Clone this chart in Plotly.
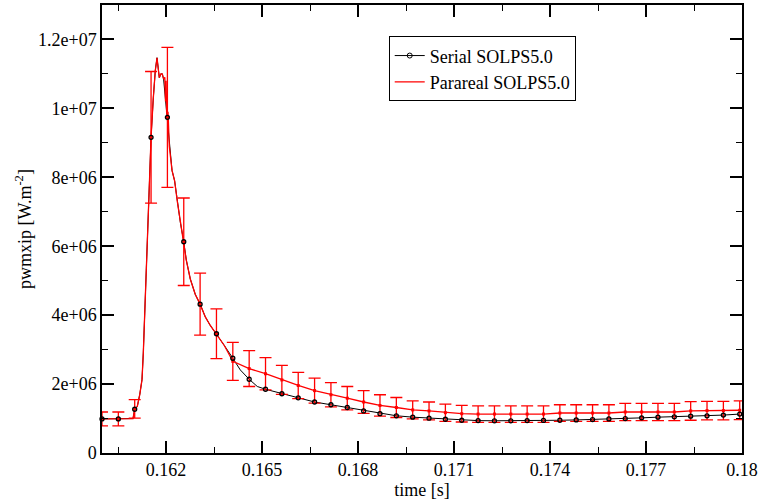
import plotly.graph_objects as go

# ---- data ----
# time of the sampled points (markers / error bars)
sample_t = [0.160000, 0.160511, 0.161022, 0.161533, 0.162044, 0.162555, 0.163066, 0.163577,
            0.164088, 0.164599, 0.165110, 0.165621, 0.166132, 0.166643, 0.167154, 0.167665,
            0.168176, 0.168687, 0.169198, 0.169709, 0.170220, 0.170731, 0.171242, 0.171753,
            0.172264, 0.172775, 0.173286, 0.173797, 0.174308, 0.174819, 0.175330, 0.175841,
            0.176352, 0.176863, 0.177374, 0.177885, 0.178396, 0.178907, 0.179418, 0.179929]

serial_y = [0.99e6, 0.99e6, 1.27e6, 9.16e6, 9.74e6, 6.13e6, 4.32e6, 3.46e6,
            2.75e6, 2.14e6, 1.85e6, 1.72e6, 1.60e6, 1.48e6, 1.40e6, 1.32e6,
            1.22e6, 1.14e6, 1.08e6, 1.04e6, 1.01e6, 0.98e6, 0.95e6, 0.94e6,
            0.935e6, 0.935e6, 0.94e6, 0.945e6, 0.95e6, 0.96e6, 0.97e6, 0.99e6,
            1.00e6, 1.02e6, 1.04e6, 1.05e6, 1.07e6, 1.08e6, 1.10e6, 1.13e6]

# extra points of the serial curve between samples
serial_detail_t = [0.160822, 0.160970, 0.161103, 0.161181, 0.161250, 0.161291, 0.161331,
                   0.161400, 0.161478, 0.161603, 0.161666, 0.161719, 0.161759, 0.161791,
                   0.161838, 0.161884, 0.161925, 0.161978, 0.162103, 0.162188, 0.162269,
                   0.162353, 0.162447, 0.162634, 0.162759, 0.162916, 0.163228, 0.163384,
                   0.163822, 0.164322, 0.164853]
serial_detail_y = [0.99e6, 1.00e6, 1.35e6, 1.70e6, 2.13e6, 2.90e6, 3.87e6,
                   5.80e6, 7.94e6, 10.3e6, 11.1e6, 11.47e6, 11.15e6, 10.89e6,
                   11.0e6, 11.0e6, 10.85e6, 10.3e6, 8.9e6, 8.2e6, 7.9e6,
                   7.3e6, 6.7e6, 5.6e6, 5.05e6, 4.6e6, 3.95e6, 3.7e6,
                   3.12e6, 2.41e6, 1.93e6]

parareal_y = [0.99e6, 0.99e6, 1.28e6, 9.16e6, 9.74e6, 6.13e6, 4.32e6, 3.46e6,
              2.66e6, 2.45e6, 2.30e6, 2.12e6, 1.96e6, 1.81e6, 1.69e6, 1.59e6,
              1.48e6, 1.38e6, 1.32e6, 1.25e6, 1.22e6, 1.17e6, 1.14e6, 1.13e6,
              1.13e6, 1.13e6, 1.13e6, 1.13e6, 1.16e6, 1.16e6, 1.16e6, 1.16e6,
              1.19e6, 1.19e6, 1.19e6, 1.19e6, 1.22e6, 1.23e6, 1.23e6, 1.24e6]
parareal_err = [0.20e6, 0.20e6, 0.27e6, 1.91e6, 2.03e6, 1.27e6, 0.90e6, 0.72e6,
                0.55e6, 0.52e6, 0.47e6, 0.42e6, 0.38e6, 0.36e6, 0.35e6, 0.34e6,
                0.33e6, 0.31e6, 0.29e6, 0.26e6, 0.26e6, 0.25e6, 0.24e6, 0.24e6,
                0.24e6, 0.24e6, 0.24e6, 0.24e6, 0.24e6, 0.24e6, 0.24e6, 0.24e6,
                0.25e6, 0.25e6, 0.25e6, 0.25e6, 0.27e6, 0.27e6, 0.27e6, 0.27e6]

parareal_detail_t = [0.160822, 0.160970, 0.161103, 0.161181, 0.161250, 0.161291, 0.161331,
                     0.161400, 0.161478, 0.161603, 0.161666, 0.161719, 0.161759, 0.161791,
                     0.161838, 0.161884, 0.161925, 0.161963, 0.161984, 0.162003, 0.162019,
                     0.162063, 0.162081, 0.162103, 0.162188, 0.162269, 0.162353, 0.162447,
                     0.162634, 0.162759, 0.162916, 0.163228, 0.163384, 0.163822]
parareal_detail_y = [0.99e6, 1.00e6, 1.35e6, 1.70e6, 2.13e6, 2.90e6, 3.87e6,
                     5.80e6, 7.94e6, 10.3e6, 11.1e6, 11.47e6, 11.15e6, 10.89e6,
                     11.0e6, 11.0e6, 10.85e6, 10.9e6, 10.2e6, 10.8e6, 9.9e6,
                     9.9e6, 9.3e6, 8.9e6, 8.2e6, 7.9e6, 7.3e6, 6.7e6,
                     5.6e6, 5.05e6, 4.6e6, 3.95e6, 3.7e6, 3.12e6]

x_tickvals = [0.162, 0.165, 0.168, 0.171, 0.174, 0.177, 0.18]
x_ticktext = ["0.162", "0.165", "0.168", "0.171", "0.174", "0.177", "0.18"]
y_tickvals = [0, 2e6, 4e6, 6e6, 8e6, 1e7, 1.2e7]
y_ticktext = ["0", "2e+06", "4e+06", "6e+06", "8e+06", "1e+07", "1.2e+07"]

# ---- build dense curves ----
ser = sorted(zip(sample_t + serial_detail_t, serial_y + serial_detail_y))
ser_t = [p[0] for p in ser]
ser_y = [p[1] for p in ser]
par = sorted(zip(sample_t + parareal_detail_t, parareal_y + parareal_detail_y))
par_t = [p[0] for p in par]
par_y = [p[1] for p in par]

FONT = "Liberation Serif"

fig = go.Figure()
# legend entry for serial
fig.add_trace(go.Scatter(x=[None], y=[None], mode="lines+markers", name="Serial SOLPS5.0",
                         line=dict(color="black", width=1),
                         marker=dict(symbol="circle-open", size=5, color="black", line=dict(width=1))))
# serial dense line
fig.add_trace(go.Scatter(x=ser_t, y=ser_y, mode="lines", showlegend=False,
                         line=dict(color="black", width=1)))
# parareal line
fig.add_trace(go.Scatter(x=par_t, y=par_y, mode="lines", name="Parareal SOLPS5.0",
                         line=dict(color="red", width=1.3)))
# parareal error bars
fig.add_trace(go.Scatter(x=sample_t, y=parareal_y, mode="markers", showlegend=False,
                         marker=dict(symbol="square", size=3, color="red"),
                         error_y=dict(type="data", array=parareal_err, color="red",
                                      thickness=1.3, width=6),
                         cliponaxis=False))
# serial markers
fig.add_trace(go.Scatter(x=sample_t, y=serial_y, mode="markers", showlegend=False,
                         marker=dict(symbol="circle-open", size=4, color="black",
                                     line=dict(color="black", width=1.3)),
                         cliponaxis=False))

axis_common = dict(showgrid=False, zeroline=False, showline=True, linecolor="black",
                   linewidth=1.5, mirror="allticks", ticks="inside", ticklen=12,
                   tickwidth=1.5, tickcolor="black", tickmode="array", automargin=False,
                   tickfont=dict(family=FONT, size=18, color="black"))

fig.update_layout(
    width=760, height=501,
    margin=dict(l=102, r=18, t=5, b=48, autoexpand=False),
    paper_bgcolor="white", plot_bgcolor="white",
    font=dict(family=FONT, size=18, color="black"),
    xaxis=dict(range=[0.16, 0.18], tickvals=x_tickvals, ticktext=x_ticktext,
               minor=dict(ticks="inside", ticklen=6, tickwidth=1, tickcolor="black",
                          tick0=0.1605, dtick=0.0015, showgrid=False),
               title=dict(text="time [s]", font=dict(family=FONT, size=18), standoff=0),
               **axis_common),
    yaxis=dict(range=[0, 1.3e7], tickvals=y_tickvals, ticktext=y_ticktext,
               minor=dict(ticks="inside", ticklen=6, tickwidth=1, tickcolor="black",
                          tick0=0, dtick=1e6, showgrid=False),
               title=dict(text="pwmxip [W.m<sup>-2</sup>]", font=dict(family=FONT, size=18),
                          standoff=2),
               **axis_common),
    legend=dict(x=0.448, y=0.93, xanchor="left", yanchor="top",
                bgcolor="white", bordercolor="black", borderwidth=1,
                font=dict(family=FONT, size=18, color="black"),
                tracegroupgap=0, itemwidth=30),
    showlegend=True,
)

fig.write_html("out.html", config={"displayModeBar": False},
               post_script="document.body.style.margin='0';document.body.style.padding='0';"
                           "document.documentElement.style.overflow='hidden';")
